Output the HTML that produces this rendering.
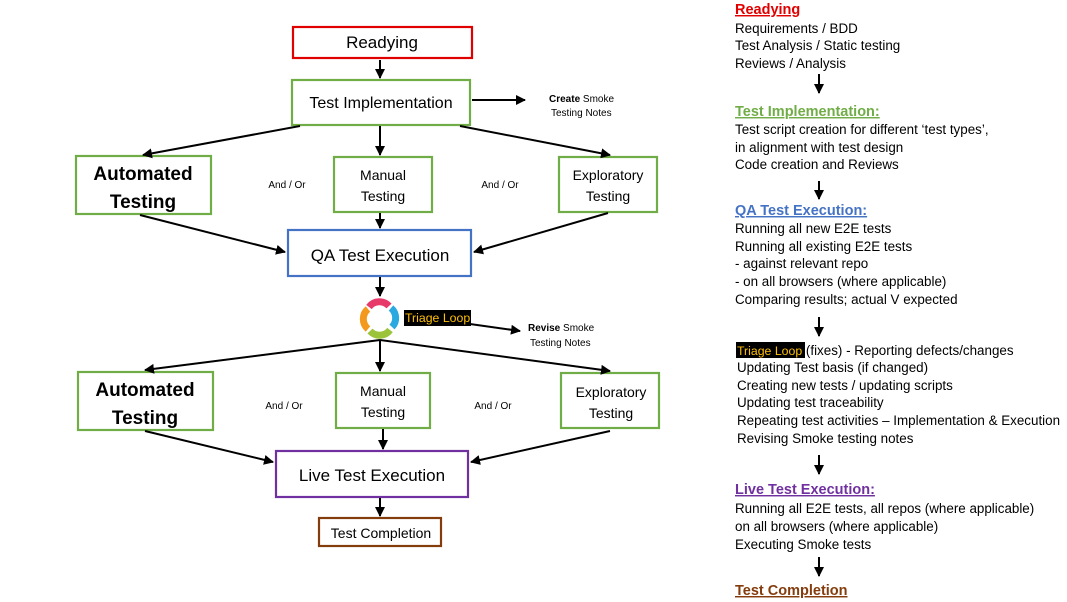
<!DOCTYPE html>
<html><head><meta charset="utf-8"><style>
html,body{margin:0;padding:0;background:#fff}
svg{display:block;font-family:"Liberation Sans",sans-serif}
</style></head><body>
<svg width="1067" height="602" viewBox="0 0 1067 602" xmlns="http://www.w3.org/2000/svg">
<defs><marker id="a" viewBox="0 0 10 10" refX="9" refY="5" markerWidth="5" markerHeight="5" orient="auto"><path d="M0,0L10,5L0,10z" fill="#000"/></marker></defs>
<g fill="none" stroke-width="2.2">
<rect x="293" y="27" width="179" height="31" stroke="#e00000"/>
<rect x="292" y="80" width="178" height="45" stroke="#70ad47"/>
<rect x="76" y="156" width="135" height="58" stroke="#70ad47"/>
<rect x="334" y="157" width="98" height="55" stroke="#70ad47"/>
<rect x="559" y="157" width="98" height="55" stroke="#70ad47"/>
<rect x="288" y="230" width="183" height="46" stroke="#4472c4"/>
<rect x="78" y="372" width="135" height="58" stroke="#70ad47"/>
<rect x="336" y="373" width="94" height="55" stroke="#70ad47"/>
<rect x="561" y="373" width="98" height="55" stroke="#70ad47"/>
<rect x="276" y="451" width="192" height="46" stroke="#7030a0"/>
<rect x="319" y="518" width="122" height="28" stroke="#843c0c"/>
</g>
<g stroke="#000" stroke-width="2" marker-end="url(#a)">
<line x1="380" y1="60" x2="380" y2="78"/>
<line x1="472" y1="100" x2="525" y2="100"/>
<line x1="300" y1="126" x2="143" y2="155"/>
<line x1="380" y1="126" x2="380" y2="155"/>
<line x1="460" y1="126" x2="610" y2="155"/>
<line x1="140" y1="215" x2="285" y2="252"/>
<line x1="380" y1="213" x2="380" y2="228"/>
<line x1="608" y1="213" x2="474" y2="252"/>
<line x1="380" y1="277" x2="380" y2="296"/>
<line x1="380" y1="340" x2="145" y2="370"/>
<line x1="380" y1="340" x2="380" y2="371"/>
<line x1="380" y1="340" x2="610" y2="371"/>
<line x1="470" y1="324" x2="520" y2="331"/>
<line x1="145" y1="431" x2="273" y2="462"/>
<line x1="383" y1="429" x2="383" y2="449"/>
<line x1="610" y1="431" x2="471" y2="462"/>
<line x1="380" y1="498" x2="380" y2="516"/>
<line x1="819" y1="74" x2="819" y2="93"/>
<line x1="819" y1="181" x2="819" y2="199"/>
<line x1="819" y1="317" x2="819" y2="336"/>
<line x1="819" y1="455" x2="819" y2="474"/>
<line x1="819" y1="557" x2="819" y2="576"/>
</g>
<g fill="none" stroke-width="7">
<path d="M369,307 A13,13 0 0 1 389,306" stroke="#e83a6a"/>
<path d="M391,308 A13,13 0 0 1 392,327" stroke="#2aa8e0"/>
<path d="M390,330 A13,13 0 0 1 370,331" stroke="#9cc43a"/>
<path d="M368,329 A13,13 0 0 1 368,309" stroke="#f39a1e"/>
</g>
<rect x="404" y="310" width="67" height="16" fill="#000"/>
<text x="405" y="322" font-size="12.3" fill="#ffc000">Triage Loop</text>
<g text-anchor="middle" fill="#000">
<text x="382" y="48" font-size="17">Readying</text>
<text x="381" y="108" font-size="16">Test Implementation</text>
<text x="143" y="180" font-size="19" font-weight="bold">Automated</text>
<text x="143" y="208" font-size="19" font-weight="bold">Testing</text>
<text x="383" y="180" font-size="14">Manual</text>
<text x="383" y="201" font-size="14">Testing</text>
<text x="608" y="180" font-size="14">Exploratory</text>
<text x="608" y="201" font-size="14">Testing</text>
<text x="380" y="261" font-size="17">QA Test Execution</text>
<text x="145" y="396" font-size="19" font-weight="bold">Automated</text>
<text x="145" y="424" font-size="19" font-weight="bold">Testing</text>
<text x="383" y="396" font-size="14">Manual</text>
<text x="383" y="417" font-size="14">Testing</text>
<text x="611" y="397" font-size="14">Exploratory</text>
<text x="611" y="418" font-size="14">Testing</text>
<text x="372" y="481" font-size="17">Live Test Execution</text>
<text x="381" y="538" font-size="14">Test Completion</text>
<text x="287" y="188" font-size="10">And / Or</text>
<text x="500" y="188" font-size="10">And / Or</text>
<text x="284" y="409" font-size="10">And / Or</text>
<text x="493" y="409" font-size="10">And / Or</text>
</g>
<g font-size="10" fill="#000">
<text x="549" y="102"><tspan font-weight="bold">Create</tspan> Smoke</text>
<text x="551" y="116">Testing Notes</text>
<text x="528" y="331"><tspan font-weight="bold">Revise</tspan> Smoke</text>
<text x="530" y="346">Testing Notes</text>
</g>
<g font-size="13.4" fill="#000">
<text x="735" y="14" font-size="14.5" font-weight="bold" fill="#e00000" text-decoration="underline">Readying</text>
<text x="735" y="33">Requirements / BDD</text>
<text x="735" y="50">Test Analysis / Static testing</text>
<text x="735" y="68">Reviews / Analysis</text>
<text x="735" y="116" font-size="14.5" font-weight="bold" fill="#70ad47" text-decoration="underline">Test Implementation:</text>
<text x="735" y="134">Test script creation for different ‘test types’,</text>
<text x="735" y="152">in alignment with test design</text>
<text x="735" y="169">Code creation and Reviews</text>
<text x="735" y="215" font-size="14.5" font-weight="bold" fill="#4472c4" text-decoration="underline">QA Test Execution:</text>
<text x="735" y="233">Running all new E2E tests</text>
<text x="735" y="251">Running all existing E2E tests</text>
<text x="735" y="268">- against relevant repo</text>
<text x="735" y="286">- on all browsers (where applicable)</text>
<text x="735" y="304">Comparing results; actual V expected</text>
<rect x="736" y="342" width="69" height="16" fill="#000"/>
<text x="737" y="355"><tspan fill="#ffc000" font-size="12.3">Triage Loop</tspan> (fixes) - Reporting defects/changes</text>
<text x="737" y="372">Updating Test basis (if changed)</text>
<text x="737" y="390">Creating new tests / updating scripts</text>
<text x="737" y="407">Updating test traceability</text>
<text x="737" y="425">Repeating test activities – Implementation &amp; Execution</text>
<text x="737" y="443">Revising Smoke testing notes</text>
<text x="735" y="494" font-size="14.5" font-weight="bold" fill="#7030a0" text-decoration="underline">Live Test Execution:</text>
<text x="735" y="513">Running all E2E tests, all repos (where applicable)</text>
<text x="735" y="531">on all browsers (where applicable)</text>
<text x="735" y="549">Executing Smoke tests</text>
<text x="735" y="595" font-size="14.5" font-weight="bold" fill="#843c0c" text-decoration="underline">Test Completion</text>
</g>
</svg>
</body></html>
